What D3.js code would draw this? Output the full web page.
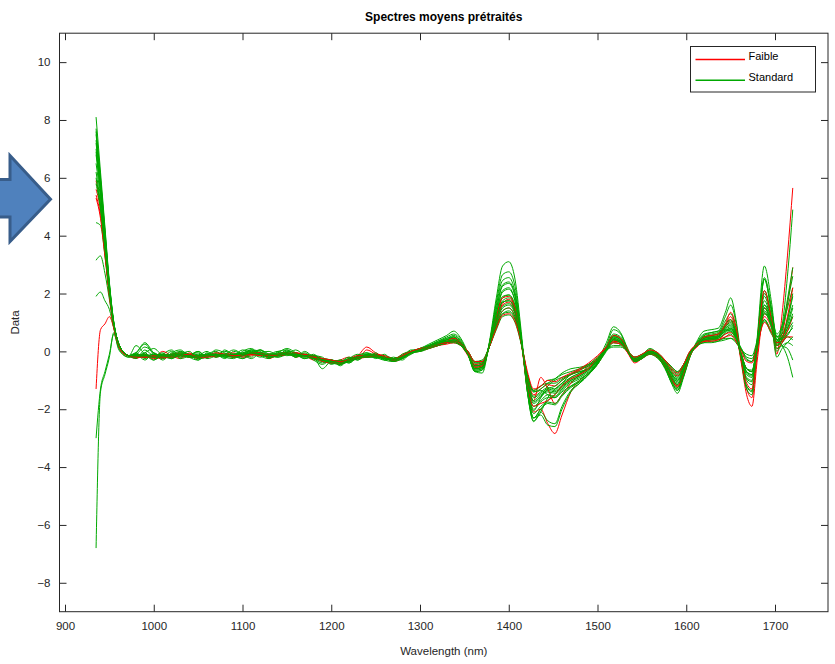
<!DOCTYPE html>
<html><head><meta charset="utf-8">
<script src="https://cdn.jsdelivr.net/npm/d3@7"></script>
<style>body{margin:0;background:#fff}svg{display:block;font-family:"Liberation Sans",Arial,Helvetica,sans-serif}</style>
</head><body><svg id="chart" width="835" height="664"></svg>
<script>
const title = "Spectres moyens prétraités";
const xLabel = "Wavelength (nm)";
const yLabel = "Data";
const xTicks = [900, 1000, 1100, 1200, 1300, 1400, 1500, 1600, 1700];
const yTicks = [-8, -6, -4, -2, 0, 2, 4, 6, 8, 10];
const groups = ["Faible", "Standard"];

const wavelengths = [935, 940, 945, 950, 955, 960, 965, 972,
  980, 990, 1000, 1010, 1020, 1030, 1040, 1050, 1060, 1070, 1080, 1090, 1100, 1110, 1120, 1130,
  1140, 1150, 1160, 1170, 1180, 1190, 1200, 1210, 1220, 1230, 1240, 1250, 1260, 1270, 1280, 1290,
  1300, 1310, 1320, 1330, 1338, 1346, 1354, 1362, 1370, 1378, 1386, 1393, 1400, 1407, 1414, 1421, 1428, 1436, 1444, 1452,
  1460, 1470, 1480, 1490, 1500, 1510, 1518, 1526, 1534, 1542, 1550, 1559, 1568, 1576, 1584, 1590, 1597, 1604, 1612, 1620,
  1628, 1636, 1644, 1650, 1656, 1662, 1668, 1674, 1680, 1688, 1696, 1702, 1708, 1714, 1720];

const faible1 = [-1.3, 0.75, 0.95, 1.2, 0.8, 0.2, -0.05, -0.15,
  -0.1, -0.15, -0.25, -0.2, -0.1, -0.05, -0.15, -0.25, -0.2, -0.1, -0.1, -0.2, -0.15, -0.05, -0.1, -0.2,
  -0.15, -0.1, -0.05, -0.1, -0.2, -0.3, -0.35, -0.45, -0.3, -0.15, 0.15, -0.05, -0.2, -0.35, -0.25, -0.05,
  0.0, 0.1, 0.2, 0.3, 0.35, 0.2, -0.15, -0.6, -0.55, 0.15, 1.05, 1.65, 1.8, 1.45, 0.35, -1.2, -2.1, -2.0, -2.5, -2.84,
  -2.2, -1.4, -1.0, -0.75, -0.45, 0.05, 0.4, 0.3, -0.05, -0.35, -0.25, -0.1, -0.2, -0.5, -1.0, -1.25, -0.8, -0.15, 0.15, 0.35,
  0.4, 0.5, 0.9, 1.2, 0.7, -0.4, -1.5, -1.9, -0.3, 1.3, 0.9, -0.1, 1.3, 3.3, 5.65];
const faible2 = [5.9, 5.0, 3.6, 2.1, 0.9, 0.3, 0.0, -0.15,
  -0.25, -0.1, -0.2, 0.0, -0.15, -0.25, -0.05, -0.2, -0.1, -0.2, -0.1, -0.05, -0.2, -0.15, -0.05, -0.25,
  -0.1, -0.05, -0.2, -0.15, -0.3, -0.25, -0.4, -0.3, -0.2, -0.25, 0.05, -0.1, -0.25, -0.3, -0.1, 0.0,
  0.05, 0.15, 0.2, 0.3, 0.3, 0.2, -0.1, -0.5, -0.45, 0.15, 1.0, 1.6, 1.7, 1.35, 0.3, -1.0, -1.7, -0.9, -1.3, -1.8,
  -1.5, -1.1, -0.8, -0.5, -0.3, 0.05, 0.4, 0.3, -0.05, -0.4, -0.25, -0.1, -0.2, -0.55, -1.0, -1.2, -0.7, -0.05, 0.25, 0.45,
  0.5, 0.55, 0.85, 1.1, 0.6, -0.3, -1.3, -1.6, -0.1, 1.5, 1.0, 0.3, 0.6, 1.6, 2.9];
const faible3 = [5.4, 4.7, 3.4, 2.0, 0.9, 0.3, -0.05, -0.15,
  -0.15, -0.2, -0.2, -0.25, -0.15, -0.1, -0.2, -0.2, -0.15, -0.1, -0.15, -0.2, -0.1, -0.1, -0.1, -0.15,
  -0.15, -0.1, -0.15, -0.1, -0.15, -0.25, -0.3, -0.4, -0.35, -0.25, -0.2, -0.1, -0.15, -0.25, -0.2, -0.05,
  0.05, 0.1, 0.2, 0.25, 0.3, 0.2, -0.05, -0.45, -0.4, 0.15, 0.9, 1.4, 1.5, 1.2, 0.3, -0.9, -1.5, -1.3, -1.15, -1.2,
  -1.0, -0.8, -0.65, -0.45, -0.25, 0.1, 0.35, 0.3, 0.0, -0.25, -0.15, 0.0, -0.1, -0.35, -0.7, -0.85, -0.5, -0.05, 0.2, 0.35,
  0.4, 0.4, 0.6, 0.65, 0.45, -0.1, -0.6, -0.7, 0.1, 1.2, 0.8, 0.1, 0.3, 0.7, 1.2];
const faible4 = [5.6, 4.9, 3.5, 2.0, 0.9, 0.3, 0.0, -0.15,
  -0.15, -0.15, -0.2, -0.15, -0.1, -0.1, -0.15, -0.15, -0.15, -0.05, -0.1, -0.15, -0.15, -0.05, -0.05, -0.15,
  -0.1, -0.05, -0.1, -0.1, -0.2, -0.35, -0.4, -0.4, -0.25, -0.15, -0.15, -0.1, -0.2, -0.3, -0.2, -0.05,
  0.05, 0.15, 0.2, 0.35, 0.45, 0.3, -0.05, -0.55, -0.5, 0.2, 1.2, 1.85, 1.9, 1.5, 0.3, -1.2, -1.9, -1.8, -1.7, -1.5,
  -1.2, -0.95, -0.8, -0.6, -0.2, 0.15, 0.55, 0.45, 0.05, -0.3, -0.2, -0.05, -0.15, -0.5, -0.95, -1.2, -0.75, -0.15, 0.25, 0.5,
  0.55, 0.6, 0.95, 1.35, 0.85, -0.3, -1.1, -1.3, 0.2, 2.1, 1.1, 0.2, 0.4, 1.2, 2.2];
const faible5 = [5.3, 4.6, 3.3, 1.9, 0.8, 0.25, -0.05, -0.15,
  -0.2, -0.2, -0.15, -0.2, -0.2, -0.15, -0.1, -0.2, -0.2, -0.15, -0.1, -0.15, -0.15, -0.1, -0.15, -0.1,
  -0.15, -0.1, -0.05, -0.15, -0.2, -0.25, -0.3, -0.35, -0.3, -0.2, -0.2, -0.15, -0.2, -0.25, -0.15, 0.0,
  0.1, 0.15, 0.25, 0.3, 0.35, 0.25, 0.0, -0.35, -0.35, 0.15, 0.8, 1.25, 1.3, 1.05, 0.3, -0.7, -1.3, -1.2, -1.0, -1.05,
  -0.9, -0.75, -0.6, -0.4, -0.15, 0.15, 0.3, 0.25, 0.0, -0.2, -0.1, 0.05, -0.05, -0.3, -0.6, -0.75, -0.45, 0.0, 0.25, 0.35,
  0.35, 0.4, 0.5, 0.55, 0.35, 0.0, -0.35, -0.4, 0.2, 1.0, 0.65, 0.3, 0.35, 0.5, 0.5];

const standard1 = [-6.8, -1.4, -0.8, -0.2, 0.65, 0.1, -0.1, -0.2,
  -0.1, -0.2, -0.15, -0.1, -0.2, -0.15, -0.2, -0.15, -0.1, -0.15, -0.2, -0.1, -0.1, 0.0, -0.1, -0.2,
  -0.15, -0.05, -0.15, -0.2, -0.15, -0.25, -0.35, -0.45, -0.3, -0.2, -0.1, -0.15, -0.25, -0.3, -0.15, 0.0,
  0.05, 0.2, 0.3, 0.4, 0.45, 0.25, -0.1, -0.6, -0.55, 0.2, 1.2, 1.9, 1.95, 1.55, 0.35, -1.15, -2.0, -1.75, -1.6, -1.6,
  -1.35, -1.1, -0.95, -0.75, -0.4, 0.1, 0.5, 0.4, 0.0, -0.3, -0.2, -0.05, -0.2, -0.5, -0.9, -1.1, -0.7, -0.15, 0.2, 0.45,
  0.5, 0.5, 0.7, 0.8, 0.5, -0.15, -0.7, -0.8, 0.2, 1.6, 1.1, 0.2, 0.4, 0.7, 1.0];
const standard2 = [-3.0, -1.3, -0.7, -0.1, 0.6, 0.15, -0.1, -0.2,
  -0.2, -0.15, -0.2, -0.15, -0.1, -0.15, -0.2, -0.2, -0.15, -0.1, -0.15, -0.2, -0.1, -0.1, -0.15, -0.15,
  -0.1, -0.1, -0.15, -0.15, -0.25, -0.35, -0.3, -0.35, -0.3, -0.25, -0.15, -0.2, -0.2, -0.3, -0.25, -0.1,
  0.05, 0.1, 0.2, 0.3, 0.35, 0.2, -0.1, -0.45, -0.4, 0.15, 0.95, 1.5, 1.6, 1.3, 0.35, -0.9, -1.55, -1.4, -1.25, -1.3,
  -1.1, -0.9, -0.75, -0.55, -0.3, 0.1, 0.35, 0.3, 0.0, -0.25, -0.15, 0.0, -0.1, -0.35, -0.7, -0.85, -0.55, -0.05, 0.2, 0.35,
  0.4, 0.45, 0.6, 0.7, 0.45, -0.1, -0.6, -0.65, 0.2, 1.3, 0.9, 0.2, 0.3, 0.5, 0.4];
const standard3 = [1.9, 2.05, 1.75, 1.45, 0.8, 0.25, 0.0, -0.15,
  -0.05, 0.3, -0.05, -0.2, -0.15, -0.1, -0.2, -0.2, -0.1, -0.15, -0.15, -0.1, -0.05, 0.05, -0.1, -0.15,
  -0.1, -0.1, -0.15, -0.15, -0.15, -0.3, -0.4, -0.35, -0.25, -0.2, -0.15, -0.15, -0.2, -0.3, -0.2, -0.05,
  0.05, 0.15, 0.3, 0.45, 0.5, 0.3, -0.1, -0.65, -0.6, 0.25, 1.45, 2.3, 2.4, 1.95, 0.5, -1.3, -2.3, -2.0, -1.8, -1.85,
  -1.55, -1.25, -1.05, -0.8, -0.45, 0.1, 0.55, 0.45, 0.0, -0.35, -0.25, -0.05, -0.2, -0.55, -1.0, -1.25, -0.8, -0.15, 0.25, 0.5,
  0.55, 0.6, 0.9, 1.05, 0.65, -0.2, -0.95, -1.05, 0.15, 2.0, 1.2, 0.25, 0.45, 1.1, 2.0];
const standard4 = [3.15, 3.3, 2.7, 1.8, 0.85, 0.3, 0.0, -0.15,
  -0.2, -0.2, -0.15, -0.1, -0.15, -0.2, -0.15, -0.1, -0.15, -0.15, -0.1, -0.15, -0.2, -0.1, -0.1, -0.1,
  -0.15, -0.1, -0.1, -0.15, -0.2, -0.6, -0.35, -0.4, -0.3, -0.2, -0.2, -0.15, -0.25, -0.3, -0.2, -0.05,
  0.1, 0.15, 0.25, 0.3, 0.35, 0.2, -0.05, -0.4, -0.35, 0.15, 0.85, 1.3, 1.4, 1.15, 0.3, -0.8, -1.35, -1.2, -1.1, -1.1,
  -0.95, -0.8, -0.65, -0.5, -0.3, 0.05, 0.3, 0.25, 0.0, -0.2, -0.1, 0.0, -0.1, -0.3, -0.6, -0.75, -0.45, 0.0, 0.2, 0.3,
  0.3, 0.35, 0.5, 0.6, 0.4, 0.05, -0.3, -0.35, 0.3, 1.1, 0.7, 0.4, 0.2, -0.2, -0.9];
const standard5 = [4.45, 4.35, 3.3, 2.0, 0.95, 0.3, 0.0, -0.15,
  0.2, -0.1, -0.3, -0.1, 0.05, -0.2, -0.1, -0.05, -0.25, -0.15, 0.0, -0.1, -0.25, -0.1, 0.05, -0.1,
  -0.2, -0.1, 0.05, -0.15, -0.25, -0.25, -0.3, -0.45, -0.25, -0.3, -0.1, -0.2, -0.1, -0.35, -0.2, 0.05,
  0.05, 0.15, 0.25, 0.3, 0.4, 0.25, -0.1, -0.5, -0.45, 0.2, 1.1, 1.7, 1.75, 1.45, 0.4, -1.0, -1.75, -1.55, -1.35, -1.4,
  -1.2, -1.0, -0.85, -0.65, -0.35, 0.1, 0.4, 0.35, 0.0, -0.3, -0.2, -0.05, -0.15, -0.4, -0.8, -0.95, -0.6, -0.1, 0.2, 0.4,
  0.45, 0.45, 0.65, 0.75, 0.5, -0.1, -0.6, -0.7, 0.2, 1.5, 1.0, 0.3, 0.5, 0.9, 1.5];
const standard6 = [8.1, 6.2, 4.3, 2.4, 1.0, 0.3, 0.0, -0.15,
  -0.15, -0.2, -0.15, -0.15, -0.1, -0.05, -0.1, -0.2, -0.15, -0.1, -0.15, -0.15, -0.1, -0.05, -0.1, -0.1,
  -0.05, -0.05, -0.1, -0.15, -0.2, -0.3, -0.35, -0.4, -0.3, -0.2, -0.15, -0.15, -0.2, -0.3, -0.2, 0.0,
  0.1, 0.25, 0.4, 0.55, 0.7, 0.45, -0.05, -0.7, -0.75, 0.3, 1.85, 2.95, 3.1, 2.5, 0.7, -1.4, -2.4, -2.1, -1.6, -1.3,
  -1.1, -0.8, -0.7, -0.6, -0.3, 0.3, 0.85, 0.65, 0.1, -0.35, -0.15, 0.1, -0.1, -0.55, -1.15, -1.45, -0.9, -0.2, 0.35, 0.7,
  0.75, 0.8, 1.35, 1.85, 1.1, -0.2, -1.2, -1.4, 0.5, 2.95, 1.7, 0.4, 0.9, 2.6, 4.9];
const standard7 = [7.7, 6.0, 4.2, 2.35, 1.0, 0.3, 0.0, -0.15,
  -0.05, -0.25, -0.1, -0.3, -0.05, 0.05, -0.2, -0.3, -0.1, 0.0, -0.2, -0.25, 0.0, 0.1, -0.15, -0.25,
  0.0, 0.05, -0.2, -0.1, -0.3, -0.45, -0.3, -0.5, -0.25, -0.1, -0.2, -0.05, -0.3, -0.35, -0.15, 0.0,
  0.05, 0.2, 0.35, 0.5, 0.6, 0.4, -0.1, -0.7, -0.65, 0.25, 1.7, 2.65, 2.75, 2.25, 0.55, -1.4, -2.3, -2.0, -1.7, -1.5,
  -1.2, -0.9, -0.75, -0.6, -0.3, 0.2, 0.75, 0.6, 0.05, -0.35, -0.2, 0.05, -0.15, -0.55, -1.1, -1.35, -0.85, -0.2, 0.3, 0.6,
  0.65, 0.7, 1.2, 1.6, 1.0, -0.3, -1.3, -1.5, 0.4, 2.55, 1.5, 0.3, 0.7, 1.8, 2.9];
const standard8 = [7.5, 5.9, 4.1, 2.3, 0.95, 0.3, 0.0, -0.15,
  -0.15, -0.1, -0.2, -0.2, -0.15, -0.1, -0.2, -0.15, -0.1, -0.15, -0.15, -0.1, -0.1, -0.05, -0.05, -0.15,
  -0.15, -0.1, -0.05, -0.15, -0.15, -0.3, -0.4, -0.4, -0.3, -0.15, -0.15, -0.15, -0.25, -0.3, -0.15, 0.0,
  0.1, 0.2, 0.35, 0.45, 0.55, 0.35, -0.1, -0.7, -0.65, 0.25, 1.6, 2.45, 2.55, 2.05, 0.5, -1.35, -2.3, -2.2, -2.55, -2.6,
  -2.0, -1.4, -1.1, -0.8, -0.4, 0.15, 0.6, 0.5, 0.05, -0.35, -0.25, -0.05, -0.2, -0.6, -1.1, -1.3, -0.8, -0.15, 0.3, 0.55,
  0.6, 0.65, 1.05, 1.3, 0.8, -0.3, -1.2, -1.35, 0.3, 2.5, 1.4, 0.5, 0.8, 1.5, 2.2];
const standard9 = [7.2, 5.7, 4.0, 2.25, 0.95, 0.3, 0.0, -0.15,
  -0.25, 0.05, -0.15, -0.05, -0.25, -0.1, 0.0, -0.25, -0.2, 0.05, -0.05, -0.2, -0.15, 0.05, 0.0, -0.2,
  -0.05, 0.1, -0.05, -0.25, -0.15, -0.2, -0.45, -0.35, -0.4, -0.15, -0.05, -0.25, -0.15, -0.25, -0.3, -0.05,
  0.0, 0.15, 0.3, 0.4, 0.5, 0.3, -0.1, -0.65, -0.6, 0.2, 1.45, 2.25, 2.35, 1.9, 0.45, -1.4, -2.43, -2.1, -2.4, -2.5,
  -1.9, -1.35, -1.1, -0.8, -0.4, 0.1, 0.55, 0.45, 0.0, -0.35, -0.25, -0.1, -0.25, -0.55, -1.05, -1.35, -0.85, -0.2, 0.25, 0.5,
  0.55, 0.6, 0.95, 1.1, 0.65, -0.25, -1.0, -1.15, 0.2, 2.1, 1.2, 0.0, 0.3, 0.6, 0.8];
const standard10 = [7.0, 5.6, 3.9, 2.2, 0.95, 0.3, 0.0, -0.15,
  -0.05, 0.25, -0.1, -0.2, -0.15, -0.1, -0.15, -0.2, -0.15, -0.05, -0.1, -0.15, -0.1, 0.05, -0.05, -0.15,
  -0.1, 0.0, -0.05, -0.15, -0.2, -0.3, -0.3, -0.35, -0.3, -0.2, -0.1, -0.1, -0.2, -0.25, -0.15, 0.0,
  0.05, 0.15, 0.3, 0.4, 0.45, 0.3, -0.1, -0.6, -0.55, 0.2, 1.3, 2.05, 2.15, 1.75, 0.4, -1.2, -2.05, -1.6, -1.2, -1.0,
  -0.9, -0.8, -0.7, -0.6, -0.3, 0.15, 0.5, 0.4, 0.0, -0.3, -0.2, -0.05, -0.15, -0.5, -0.9, -1.15, -0.75, -0.1, 0.2, 0.45,
  0.5, 0.55, 0.85, 1.0, 0.65, -0.15, -0.8, -0.9, 0.3, 1.9, 1.1, 0.4, 0.5, 1.0, 1.6];
const standard11 = [6.8, 5.5, 3.85, 2.15, 0.95, 0.3, 0.0, -0.15,
  -0.2, -0.05, 0.1, -0.15, -0.25, -0.05, -0.15, 0.0, -0.2, -0.1, -0.2, -0.15, 0.05, -0.05, -0.2, -0.1,
  0.0, -0.15, -0.1, -0.2, -0.1, -0.3, -0.3, -0.4, -0.35, -0.2, -0.2, -0.15, -0.2, -0.35, -0.25, -0.05,
  0.05, 0.15, 0.25, 0.35, 0.4, 0.25, -0.1, -0.55, -0.5, 0.2, 1.2, 1.85, 1.95, 1.6, 0.4, -1.1, -1.9, -1.7, -1.5, -1.55,
  -1.3, -1.05, -0.9, -0.7, -0.4, 0.1, 0.45, 0.35, 0.0, -0.3, -0.2, -0.05, -0.15, -0.45, -0.85, -1.05, -0.65, -0.1, 0.2, 0.4,
  0.45, 0.5, 0.75, 0.85, 0.55, -0.15, -0.75, -0.85, 0.1, 1.6, 0.9, 0.1, 0.2, 0.3, 0.2];
const standard12 = [6.5, 5.3, 3.75, 2.1, 0.9, 0.3, 0.0, -0.15,
  -0.2, -0.05, -0.3, -0.1, -0.25, 0.0, -0.1, -0.3, -0.05, -0.2, 0.05, -0.15, -0.25, -0.05, 0.05, -0.2,
  -0.15, 0.05, -0.1, -0.25, -0.2, -0.35, -0.4, -0.3, -0.35, -0.2, -0.05, -0.15, -0.25, -0.3, -0.1, 0.0,
  0.0, 0.1, 0.2, 0.3, 0.4, 0.25, -0.1, -0.55, -0.5, 0.15, 1.1, 1.75, 1.85, 1.5, 0.35, -1.05, -1.8, -1.6, -1.3, -1.2,
  -1.0, -0.8, -0.6, -0.45, -0.35, 0.1, 0.45, 0.35, 0.0, -0.3, -0.2, -0.05, -0.15, -0.45, -0.8, -1.0, -0.6, -0.05, 0.25, 0.5,
  0.55, 0.6, 0.8, 0.9, 0.55, -0.1, -0.6, -0.7, 0.4, 2.5, 1.4, 0.6, 0.9, 1.7, 2.6];
const standard13 = [6.9, 5.5, 3.8, 2.1, 0.9, 0.3, 0.0, -0.15,
  -0.15, -0.15, -0.2, -0.15, -0.2, -0.15, -0.1, -0.15, -0.15, -0.1, -0.15, -0.1, -0.05, 0.0, -0.1, -0.15,
  -0.1, -0.1, -0.15, -0.15, -0.2, -0.3, -0.3, -0.4, -0.3, -0.2, -0.15, -0.2, -0.25, -0.3, -0.2, -0.05,
  0.05, 0.15, 0.25, 0.3, 0.35, 0.2, -0.1, -0.5, -0.45, 0.15, 1.0, 1.55, 1.65, 1.35, 0.35, -0.95, -1.6, -1.45, -1.3, -1.35,
  -1.15, -0.95, -0.8, -0.6, -0.35, 0.05, 0.4, 0.3, 0.0, -0.25, -0.15, 0.0, -0.15, -0.4, -0.75, -0.9, -0.55, -0.05, 0.25, 0.45,
  0.5, 0.5, 0.7, 0.75, 0.5, -0.1, -0.6, -0.7, 0.2, 1.35, 0.85, 0.3, 0.5, 0.8, 1.2];
const standard14 = [7.6, 5.9, 4.1, 2.3, 1.0, 0.3, 0.0, -0.15,
  -0.1, -0.3, -0.05, -0.2, 0.0, -0.25, -0.15, 0.0, -0.2, -0.1, -0.25, 0.0, -0.1, -0.2, 0.05, -0.15,
  -0.2, -0.05, -0.2, -0.05, -0.25, -0.4, -0.3, -0.35, -0.2, -0.3, -0.1, -0.2, -0.3, -0.2, -0.25, 0.0,
  0.1, 0.2, 0.3, 0.35, 0.4, 0.25, 0.0, -0.4, -0.4, 0.15, 0.9, 1.4, 1.5, 1.2, 0.35, -0.8, -1.4, -1.35, -1.5, -1.6,
  -1.4, -1.2, -1.05, -0.8, -0.45, 0.0, 0.3, 0.25, 0.0, -0.25, -0.15, 0.0, -0.1, -0.35, -0.65, -0.8, -0.5, -0.05, 0.25, 0.55,
  0.65, 0.7, 0.75, 0.7, 0.45, 0.1, -0.25, -0.35, 0.3, 1.1, 0.65, 0.55, 0.2, 0.1, -0.3];
const standard15 = [6.2, 5.1, 3.6, 2.0, 0.9, 0.3, 0.0, -0.15,
  -0.2, -0.15, -0.2, -0.2, -0.15, -0.1, -0.15, -0.15, -0.1, -0.1, -0.15, -0.15, -0.15, -0.1, -0.1, -0.1,
  -0.15, -0.1, -0.1, -0.15, -0.2, -0.25, -0.3, -0.35, -0.25, -0.2, -0.2, -0.2, -0.2, -0.25, -0.2, -0.05,
  0.1, 0.15, 0.25, 0.3, 0.3, 0.2, 0.0, -0.35, -0.35, 0.15, 0.8, 1.3, 1.35, 1.1, 0.3, -0.8, -1.35, -1.2, -1.0, -0.95,
  -0.8, -0.7, -0.6, -0.5, -0.25, 0.05, 0.2, 0.2, 0.0, -0.2, -0.1, 0.05, -0.05, -0.3, -0.55, -0.7, -0.45, -0.05, 0.2, 0.3,
  0.35, 0.35, 0.4, 0.45, 0.35, 0.1, -0.2, -0.25, 0.25, 1.05, 0.6, 0.35, 0.45, 0.55, 0.9];
const standard16 = [6.0, 5.0, 3.55, 2.0, 0.9, 0.3, 0.0, -0.15,
  -0.1, 0.15, -0.05, -0.25, -0.1, 0.0, -0.2, -0.15, 0.0, -0.2, -0.1, 0.05, -0.1, -0.25, -0.05, 0.0,
  -0.15, -0.05, -0.2, 0.0, -0.2, -0.3, -0.35, -0.3, -0.4, -0.2, -0.15, -0.1, -0.3, -0.25, -0.15, -0.05,
  0.05, 0.15, 0.2, 0.3, 0.35, 0.25, 0.0, -0.35, -0.3, 0.15, 0.75, 1.2, 1.26, 1.0, 0.25, -0.8, -1.4, -1.3, -1.1, -0.95,
  -0.75, -0.6, -0.55, -0.45, -0.2, 0.05, 0.15, 0.15, 0.0, -0.2, -0.15, 0.0, -0.1, -0.3, -0.55, -0.7, -0.45, -0.05, 0.25, 0.4,
  0.4, 0.4, 0.45, 0.45, 0.3, 0.05, -0.1, -0.15, 0.4, 1.4, 0.95, 0.5, 0.6, 1.1, 1.9];
const standard17 = [7.3, 5.8, 4.0, 2.25, 0.95, 0.3, 0.0, -0.15,
  -0.15, -0.15, -0.1, -0.15, -0.2, -0.15, -0.15, -0.2, -0.15, -0.15, -0.1, -0.1, -0.1, -0.05, -0.1, -0.2,
  -0.15, -0.1, -0.1, -0.15, -0.25, -0.3, -0.4, -0.45, -0.35, -0.25, -0.15, -0.15, -0.2, -0.3, -0.2, -0.05,
  0.05, 0.2, 0.3, 0.4, 0.5, 0.3, -0.1, -0.6, -0.55, 0.2, 1.3, 2.1, 2.2, 1.75, 0.45, -1.25, -2.15, -1.9, -1.75, -1.8,
  -1.5, -1.2, -1.0, -0.75, -0.4, 0.1, 0.5, 0.4, 0.0, -0.3, -0.2, -0.05, -0.15, -0.5, -0.95, -1.15, -0.7, -0.1, 0.2, 0.4,
  0.45, 0.5, 0.8, 0.95, 0.6, -0.2, -0.9, -1.0, 0.15, 1.75, 0.95, -0.2, 0.1, 0.3, 0.5];
const standard18 = [5.8, 4.9, 3.5, 2.0, 0.9, 0.3, 0.0, -0.15,
  -0.15, -0.15, -0.2, -0.15, -0.1, -0.1, -0.2, -0.2, -0.1, -0.1, -0.15, -0.2, -0.15, -0.05, -0.1, -0.1,
  -0.1, -0.05, -0.1, -0.15, -0.15, -0.3, -0.35, -0.4, -0.3, -0.2, -0.2, -0.2, -0.25, -0.25, -0.2, -0.05,
  0.0, 0.15, 0.25, 0.35, 0.35, 0.2, -0.1, -0.5, -0.45, 0.2, 1.1, 1.7, 1.75, 1.4, 0.35, -1.0, -1.7, -1.5, -1.4, -1.45,
  -1.25, -1.0, -0.85, -0.65, -0.4, 0.05, 0.4, 0.3, 0.0, -0.3, -0.2, -0.05, -0.15, -0.4, -0.8, -1.0, -0.65, -0.1, 0.2, 0.4,
  0.45, 0.5, 0.7, 0.8, 0.5, -0.15, -0.7, -0.8, 0.15, 1.5, 0.9, 0.2, 0.4, 0.8, 1.3];

const faibleSeries = [faible1, faible2, faible3, faible4, faible5];
const standardSeries = [standard1, standard2, standard3, standard4, standard5, standard6, standard7, standard8, standard9,
  standard10, standard11, standard12, standard13, standard14, standard15, standard16, standard17, standard18];
const groupColors = {Faible: "#ff0000", Standard: "#00a800"};

// drawing order interleaves the two groups
const drawOrder = [
  ["Faible", 0], ["Standard", 0], ["Standard", 1], ["Standard", 2], ["Standard", 3], ["Standard", 4], ["Standard", 5],
  ["Faible", 1], ["Standard", 6], ["Standard", 7], ["Standard", 8], ["Standard", 9],
  ["Faible", 2], ["Standard", 10], ["Standard", 11], ["Standard", 12],
  ["Faible", 3], ["Standard", 13], ["Standard", 14], ["Standard", 15],
  ["Faible", 4], ["Standard", 16], ["Standard", 17]];

const svg = d3.select("#chart");
svg.append("rect").attr("width", 835).attr("height", 664).attr("fill", "#fff");

const L = 59.5, R = 828, T = 33.2, B = 611.7;
const x = d3.scaleLinear().domain([893.8, 1759.7]).range([L, R]);
const y = d3.scaleLinear().domain([-9, 11]).range([B, T]);
const axisColor = "#262626";

// decorative arrow shape
svg.append("polygon")
  .attr("points", [[-5,179.5],[10,179.5],[10,155.5],[50.5,199.3],[10,241.5],[10,217],[-5,217]].map(p => p.join(",")).join(" "))
  .attr("fill", "#4f81bd").attr("stroke", "#385d8a").attr("stroke-width", 3).attr("stroke-linejoin", "miter");

svg.append("clipPath").attr("id", "clip").append("rect")
  .attr("x", L).attr("y", T).attr("width", R - L).attr("height", B - T);

const line = d3.line().x((d, i) => x(wavelengths[i])).y(d => y(d)).curve(d3.curveMonotoneX);
const gLines = svg.append("g").attr("clip-path", "url(#clip)");
drawOrder.forEach(([grp, idx]) => {
  const data = grp === "Faible" ? faibleSeries[idx] : standardSeries[idx];
  gLines.append("path").attr("d", line(data)).attr("fill", "none")
    .attr("stroke", groupColors[grp]).attr("stroke-width", 1);
});

const fmt = d3.format("d");
function styleAxis(g) {
  g.select(".domain").remove();
  g.selectAll(".tick line").attr("stroke", axisColor);
  g.selectAll(".tick text").attr("fill", axisColor).attr("font-size", "11.5px")
    .attr("font-family", '"Liberation Sans", Arial, sans-serif');
}
svg.append("g").attr("transform", `translate(0,${B})`)
  .call(d3.axisBottom(x).tickValues(xTicks).tickFormat(fmt).tickSizeInner(-7).tickSizeOuter(0).tickPadding(10))
  .call(styleAxis);
svg.append("g").attr("transform", `translate(0,${T})`)
  .call(d3.axisTop(x).tickValues(xTicks).tickSizeInner(-7).tickSizeOuter(0).tickFormat(""))
  .call(styleAxis);
svg.append("g").attr("transform", `translate(${L},0)`)
  .call(d3.axisLeft(y).tickValues(yTicks).tickFormat(fmt).tickSizeInner(-7).tickSizeOuter(0).tickPadding(9))
  .call(styleAxis);
svg.append("g").attr("transform", `translate(${R},0)`)
  .call(d3.axisRight(y).tickValues(yTicks).tickSizeInner(-7).tickSizeOuter(0).tickFormat(""))
  .call(styleAxis);

svg.append("rect").attr("x", L).attr("y", T).attr("width", R - L).attr("height", B - T)
  .attr("fill", "none").attr("stroke", axisColor).attr("stroke-width", 1);

svg.append("text").attr("x", (L + R) / 2).attr("y", 21).attr("text-anchor", "middle")
  .attr("font-size", "12px").attr("font-weight", "bold").attr("fill", "#000").text(title);
svg.append("text").attr("x", (L + R) / 2).attr("y", 655).attr("text-anchor", "middle")
  .attr("font-size", "11.5px").attr("fill", axisColor).text(xLabel);
svg.append("text").attr("transform", `translate(19,${(T + B) / 2}) rotate(-90)`).attr("text-anchor", "middle")
  .attr("font-size", "11.5px").attr("fill", axisColor).text(yLabel);

const lg = svg.append("g");
lg.append("rect").attr("x", 690.5).attr("y", 46.5).attr("width", 125).attr("height", 45.5)
  .attr("fill", "#fff").attr("stroke", axisColor).attr("stroke-width", 1);
groups.forEach((gname, i) => {
  const yy = 59.5 + i * 20.7;
  lg.append("line").attr("x1", 695.5).attr("x2", 745).attr("y1", yy).attr("y2", yy)
    .attr("stroke", groupColors[gname]).attr("stroke-width", 1.6);
  lg.append("text").attr("x", 748.5).attr("y", yy + 0.5).attr("font-size", "11px")
    .attr("fill", "#000").text(gname);
});
</script></body></html>
